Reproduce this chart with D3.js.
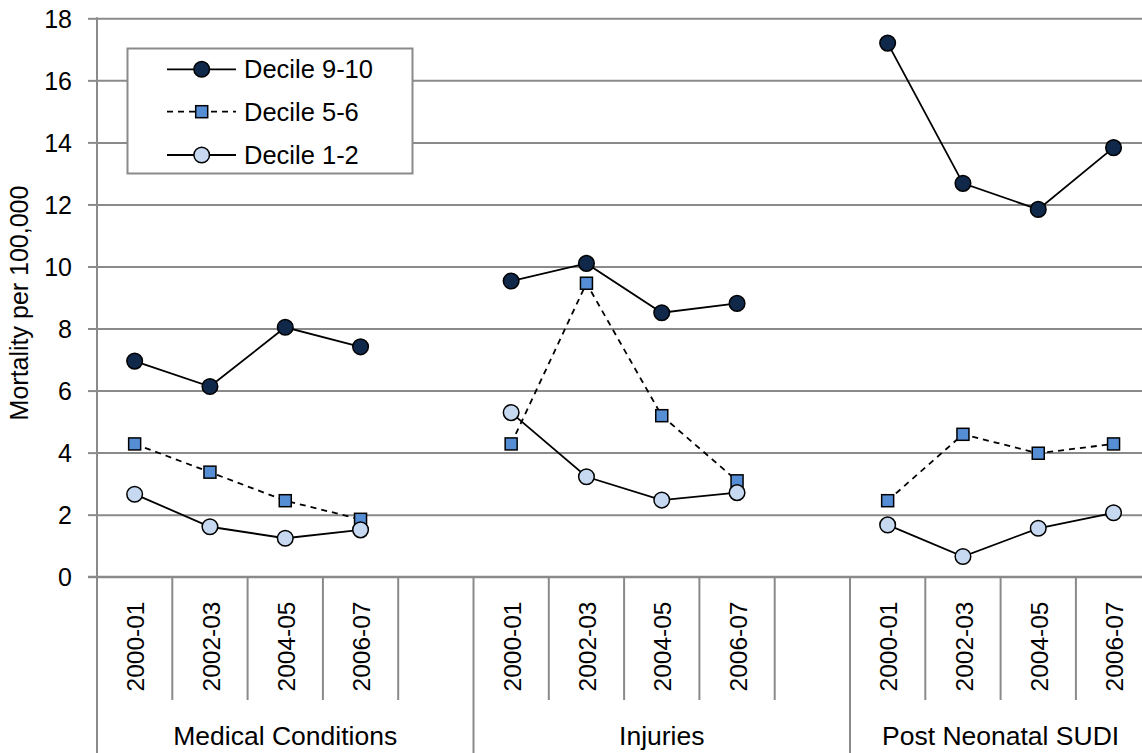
<!DOCTYPE html>
<html>
<head>
<meta charset="utf-8">
<script src="https://cdn.jsdelivr.net/npm/d3@7"></script>
<style>
  html, body { margin: 0; padding: 0; background: #fff; }
  svg { display: block; }
  text { font-family: "Liberation Sans", Arial, sans-serif; fill: #000; }
</style>
</head>
<body>
<svg id="chart" width="1142" height="753"></svg>
<script>
// Cause-of-death groups and the periods shown inside each group
const groups = ["Medical Conditions", "Injuries", "Post Neonatal SUDI"];
const periods = ["2000-01", "2002-03", "2004-05", "2006-07"];

// Mortality per 100,000, ordered group by group, period by period
const decile910 = [6.95, 6.13, 8.04, 7.41,  9.53, 10.10, 8.51, 8.81,  17.20, 12.68, 11.84, 13.83];
const decile56  = [4.28, 3.37, 2.45, 1.85,  4.28, 9.46, 5.19, 3.09,   2.45, 4.59, 3.98, 4.28];
const decile12  = [2.66, 1.61, 1.24, 1.51,  5.29, 3.22, 2.47, 2.71,   1.67, 0.65, 1.56, 2.06];

const seriesNames = ["Decile 9-10", "Decile 5-6", "Decile 1-2"];
const yTicks = [0, 2, 4, 6, 8, 10, 12, 14, 16, 18];

const svg = d3.select("#chart");
const W = 1142, H = 753;
const left = 97, slotW = 75.3;
const yTop = 18.3, yBottom = 576.7;
const axisColor = "#8a8a8a";

// One slot per period, plus an empty spacer slot after every group but the last
const slots = [];
groups.forEach((g, gi) => {
  periods.forEach(p => slots.push(g + "|" + p));
  if (gi < groups.length - 1) slots.push(g + "|");
});

const x = d3.scaleBand().domain(slots).range([left, left + slots.length * slotW]).padding(0);
const y = d3.scaleLinear().domain([0, 18]).range([yBottom, yTop]);

// Horizontal gridlines
const yAxis = d3.axisLeft(y).tickValues(yTicks).tickSize(-(W - left)).tickFormat(d3.format("d")).tickPadding(16);
const gy = svg.append("g").attr("transform", `translate(${left},0)`).call(yAxis);
gy.select(".domain").remove();
gy.selectAll(".tick line").attr("stroke", axisColor).attr("stroke-width", 2);
gy.selectAll(".tick text").attr("font-size", 25).attr("fill", "#000")
  .attr("x", -25).attr("dy", "0.35em");
// small outer ticks left of the axis
gy.selectAll(".tick").append("line")
  .attr("x1", -9).attr("x2", 0).attr("stroke", axisColor).attr("stroke-width", 2);

// Vertical value axis, continued down through the category area
svg.append("line")
  .attr("x1", left).attr("x2", left).attr("y1", yTop - 1).attr("y2", H)
  .attr("stroke", axisColor).attr("stroke-width", 2);

// Category axis baseline
svg.append("line")
  .attr("x1", left - 9).attr("x2", W).attr("y1", yBottom).attr("y2", yBottom)
  .attr("stroke", axisColor).attr("stroke-width", 2);

// Separators: short ones between periods, long ones between groups
const catTickBottom = 700;
slots.forEach((s, i) => {
  if (i === 0) return;
  const bx = x(s);
  const prevGroup = slots[i - 1].split("|")[0];
  const thisGroup = s.split("|")[0];
  const long = prevGroup !== thisGroup;
  svg.append("line")
    .attr("x1", bx).attr("x2", bx)
    .attr("y1", yBottom).attr("y2", long ? H : catTickBottom)
    .attr("stroke", axisColor).attr("stroke-width", 2);
});
// closing separator after the last slot
svg.append("line")
  .attr("x1", x.range()[1]).attr("x2", x.range()[1])
  .attr("y1", yBottom).attr("y2", H)
  .attr("stroke", axisColor).attr("stroke-width", 2);

// Rotated period labels
slots.forEach(s => {
  const p = s.split("|")[1];
  if (!p) return;
  const cx = x(s) + x.bandwidth() / 2;
  svg.append("text")
    .attr("transform", `translate(${cx + 1},646.5) rotate(-90)`)
    .attr("text-anchor", "middle").attr("dy", "0.35em")
    .attr("font-size", 24.5)
    .text(p);
});

// Group labels centred under their slots
groups.forEach(g => {
  const own = slots.filter(s => s.split("|")[0] === g);
  const x0 = x(own[0]);
  const x1 = x(own[own.length - 1]) + x.bandwidth();
  svg.append("text")
    .attr("x", (x0 + x1) / 2).attr("y", 745)
    .attr("text-anchor", "middle").attr("font-size", 26.5)
    .text(g);
});

// Value axis title
svg.append("text")
  .attr("transform", "translate(28,303) rotate(-90)")
  .attr("text-anchor", "middle").attr("font-size", 25)
  .text("Mortality per 100,000");

// Series styles
const styles = [
  { values: decile910, shape: "circle", fill: "#10284a", dash: null },
  { values: decile56,  shape: "square", fill: "#558ed5", dash: "6,5" },
  { values: decile12,  shape: "circle", fill: "#c6d9f1", dash: null }
];

function points(values) {
  return values.map((v, i) => {
    const g = groups[Math.floor(i / periods.length)];
    const p = periods[i % periods.length];
    return { group: g, key: g + "|" + p, value: v };
  });
}

const line = d3.line()
  .x(d => x(d.key) + x.bandwidth() / 2)
  .y(d => y(d.value));

function drawMarker(sel, st, cx, cy) {
  if (st.shape === "circle") {
    sel.append("circle").attr("cx", cx).attr("cy", cy).attr("r", 7.8)
      .attr("fill", st.fill).attr("stroke", "#000").attr("stroke-width", 1.5);
  } else {
    sel.append("rect").attr("x", cx - 6).attr("y", cy - 6)
      .attr("width", 12).attr("height", 12)
      .attr("fill", st.fill).attr("stroke", "#000").attr("stroke-width", 1.5);
  }
}

styles.forEach(st => {
  const pts = points(st.values);
  const gSeries = svg.append("g");
  groups.forEach(g => {
    gSeries.append("path")
      .datum(pts.filter(d => d.group === g))
      .attr("d", line)
      .attr("fill", "none").attr("stroke", "#000").attr("stroke-width", 1.8)
      .attr("stroke-dasharray", st.dash);
  });
  pts.forEach(d => drawMarker(gSeries, st, x(d.key) + x.bandwidth() / 2, y(d.value)));
});

// Legend
const lg = svg.append("g");
lg.append("rect").attr("x", 127.5).attr("y", 48.5).attr("width", 285).attr("height", 125)
  .attr("fill", "#fff").attr("stroke", axisColor).attr("stroke-width", 2);
const rowY = [69.3, 111.7, 155];
styles.forEach((st, i) => {
  lg.append("line").attr("x1", 167).attr("x2", 236).attr("y1", rowY[i]).attr("y2", rowY[i])
    .attr("stroke", "#000").attr("stroke-width", 1.8).attr("stroke-dasharray", st.dash);
  drawMarker(lg, st, 201.7, rowY[i]);
  lg.append("text").attr("x", 244).attr("y", rowY[i]).attr("dy", "0.36em")
    .attr("font-size", 25.5).text(seriesNames[i]);
});
</script>
</body>
</html>
